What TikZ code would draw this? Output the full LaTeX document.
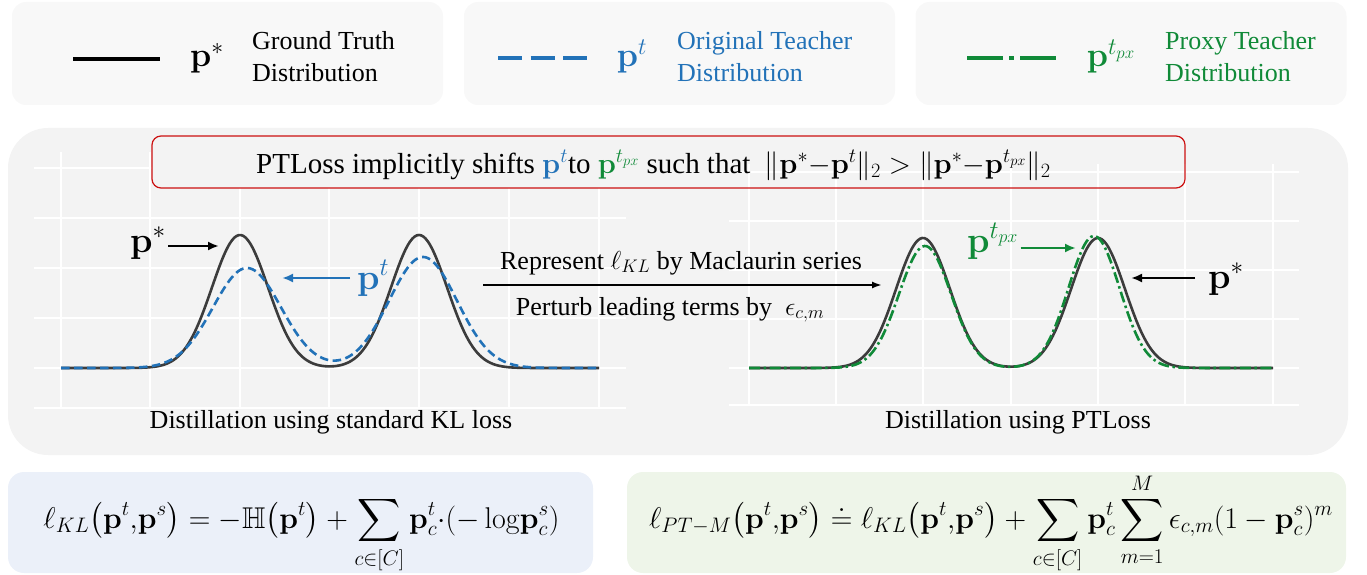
\RequirePackage{fix-cm}
\documentclass[tikz,border=0pt]{standalone}
\usepackage{amsmath,amssymb}
\usepackage[no-math]{fontspec}
\setmainfont{Liberation Serif}
\usepackage{tikz}
\usetikzlibrary{arrows.meta,positioning,calc}
\definecolor{ptblue}{HTML}{2272B8}
\definecolor{ptgreen}{HTML}{108A38}
\definecolor{ptred}{HTML}{CC1111}
\definecolor{ptcurve}{HTML}{3C3C3C}
\definecolor{legfill}{HTML}{F8F8F8}
\definecolor{panelfill}{HTML}{F3F3F3}
\definecolor{klfill}{HTML}{EBF0F9}
\definecolor{ptfill}{HTML}{EEF5E9}

\begin{document}
\begin{tikzpicture}[x=1pt, y=-1pt,
    every node/.style={inner sep=0pt, font=\fontsize{26}{32}\selectfont},
    legbox/.style={fill=legfill, rounded corners=14pt, minimum width=431pt, minimum height=103pt},
    mathbox/.style={rounded corners=16pt, minimum height=101pt},
    redbox/.style={draw=ptred, line width=1.2pt, rounded corners=9pt, minimum width=1033pt, minimum height=52pt},
    gridline/.style={white, line width=1.6pt},
    truthcurve/.style={ptcurve, line width=2.6pt},
    teachcurve/.style={ptblue, line width=2.6pt, dash pattern=on 8.5pt off 4.5pt},
    proxycurve/.style={ptgreen, line width=2.6pt, dash pattern=on 11pt off 3.5pt on 2.5pt off 3.5pt},
    keyline/.style={line width=4.5pt},
    keysym/.style={font=\fontsize{34}{40}\selectfont},
    plotsym/.style={font=\fontsize{36}{42}\selectfont},
    formula/.style={font=\fontsize{30}{36}\selectfont},
    arrow/.style={-{Latex[length=11pt, width=9pt]}, line width=2.4pt},
    declare function={bump(\u,\m,\q)=exp(-min(0.5*((\u-\m)/\q)^2,15));}
]
    \useasboundingbox (0,0) rectangle (1367,575);

    % legend
    \node[legbox] (legtruth) at (227.5,53.5) {};
    \node[legbox] (legteach) at (679.5,53.5) {};
    \node[legbox] (legproxy) at (1131,53.5) {};
    \draw[keyline, black] (73,59) -- (160,59);
    \draw[keyline, ptblue, dash pattern=on 24pt off 8.5pt] (498,58) -- (587,58);
    \draw[keyline, ptgreen, dash pattern=on 36pt off 6pt on 5pt off 6pt] (967,58) -- (1056,58);
    \node[keysym, anchor=base] (symtruth) at (207,67) {$\mathbf{p}^*$};
    \node[keysym, anchor=base, ptblue] (symteach) at (632,67) {$\mathbf{p}^t$};
    \node[keysym, anchor=base, ptgreen] (symproxy) at (1111,67) {$\mathbf{p}^{t_{px}}$};
    \node[anchor=west, align=left] (txttruth) at (252,57) {Ground Truth\\Distribution};
    \node[anchor=west, align=left, ptblue] (txtteach) at (677,57) {Original Teacher\\Distribution};
    \node[anchor=west, align=left, ptgreen] (txtproxy) at (1165,57) {Proxy Teacher\\Distribution};

    % panel and grids
    \fill[panelfill, rounded corners=40pt] (8,128) rectangle (1348,455);
    \foreach \gx in {61,150,240,329,419,509,599}
        \draw[gridline] (\gx,152) -- (\gx,408);
    \foreach \gy in {168,218,268,318,368,408}
        \draw[gridline] (34,\gy) -- (626,\gy);
    \fill[panelfill, rounded corners=9pt] (152,136) rectangle (1185,188);
    \foreach \gx in {749,836,923,1011,1098,1185,1273}
        \draw[gridline] (\gx,164) -- (\gx,405);
    \foreach \gy in {172,221,270,319,368,405}
        \draw[gridline] (729,\gy) -- (1299,\gy);
    \node[redbox] (shiftbox) at (668.5,162) {};
    \node[anchor=base, font=\fontsize{29}{34}\selectfont] (shifttxt) at (653.5,173) {PTLoss implicitly shifts \textcolor{ptblue}{$\mathbf{p}^t$}to \textcolor{ptgreen}{$\mathbf{p}^{t_{px}}$} such that\ \ $\|\mathbf{p}^*{-}\mathbf{p}^t\|_2 > \|\mathbf{p}^*{-}\mathbf{p}^{t_{px}}\|_2$};

    % curves
    \draw[truthcurve] plot[domain=61:599, samples=240, smooth] (\x, {368-133*(bump(\x,240,28)+bump(\x,419,28))});
    \draw[teachcurve] plot[domain=61:599, samples=240, smooth] (\x, {368-100*bump(\x,247,34)-111*bump(\x,423,34)});
    \draw[truthcurve] plot[domain=749:1273, samples=240, smooth] (\x, {368-130*(bump(\x,923,27)+bump(\x,1098,27))});
    \draw[proxycurve] plot[domain=749:1273, samples=240, smooth] (\x, {368-122*bump(\x,925,26)-132*bump(\x,1094,25.5)});

    % curve labels
    \node[plotsym, anchor=base west] (lblstarL) at (130,252) {$\mathbf{p}^*$};
    \node[plotsym, anchor=base west, ptblue] (lblteach) at (357,289) {$\mathbf{p}^t$};
    \node[plotsym, anchor=base west, ptgreen] (lblproxy) at (967,252) {$\mathbf{p}^{t_{px}}$};
    \node[plotsym, anchor=base west] (lblstarR) at (1208,288) {$\mathbf{p}^*$};
    \coordinate (tipstarL) at (219,246);
    \coordinate (tipteach) at (282,278);
    \coordinate (tipproxy) at (1076,248);
    \coordinate (tipstarR) at (1131,278);
    \draw[arrow] ([xshift=2pt]lblstarL.east |- tipstarL) -- (tipstarL);
    \draw[arrow, ptblue] ([xshift=-7pt]lblteach.west |- tipteach) -- (tipteach);
    \draw[arrow, ptgreen] ([xshift=2pt]lblproxy.east |- tipproxy) -- (tipproxy);
    \draw[arrow] ([xshift=-13pt]lblstarR.west |- tipstarR) -- (tipstarR);

    % middle step
    \coordinate (stepsrc) at (483,285);
    \coordinate (stepdst) at (882,285);
    \draw[-{Latex[length=10pt, width=7pt]}, line width=1.8pt] (stepsrc) -- (stepdst);
    \node[anchor=base] (stepup) at (681,269) {Represent $\ell_{KL}$ by Maclaurin series};
    \node[anchor=base] (stepdown) at (670,315) {Perturb leading terms by \ $\epsilon_{c,m}$};

    \node[anchor=base] (capkl) at (331,428) {Distillation using standard KL loss};
    \node[anchor=base] (cappt) at (1018,428) {Distillation using PTLoss};

    % loss formulas
    \node[mathbox, fill=klfill, minimum width=585pt] (klbox) at (300.5,522.5) {};
    \node[mathbox, fill=ptfill, minimum width=719pt] (ptbox) at (986.5,522.5) {};
    \node[formula, anchor=base] (klform) at (301.5,528) {$\displaystyle \ell_{KL}\bigl(\mathbf{p}^t{,}\mathbf{p}^s\bigr) = -\mathbb{H}\bigl(\mathbf{p}^t\bigr) + \sum_{c\in[C]}\mathbf{p}_c^t{\cdot}(-\log\!\mathbf{p}_c^s)$};
    \node[formula, anchor=base] (ptform) at (991,528) {$\displaystyle \ell_{PT-M}\bigl(\mathbf{p}^t{,}\mathbf{p}^s\bigr) \doteq \ell_{KL}\bigl(\mathbf{p}^t{,}\mathbf{p}^s\bigr) + \sum_{c\in[C]}\mathbf{p}_c^t\sum_{m=1}^{M}\epsilon_{c,m}(1 -\mathbf{p}_c^s)^m$};
\end{tikzpicture}
\end{document}
